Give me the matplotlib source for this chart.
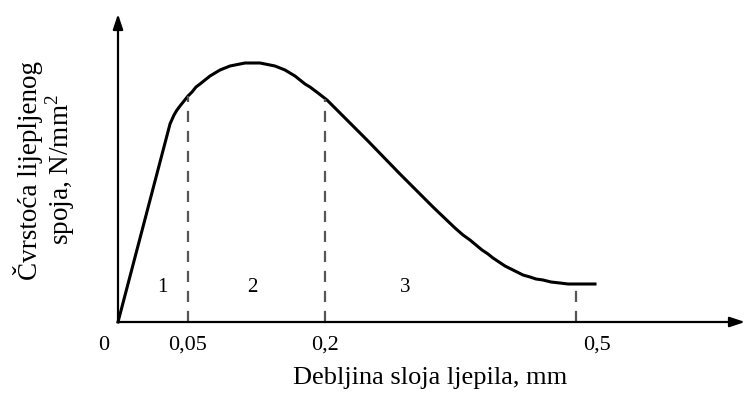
import matplotlib
matplotlib.use("Agg")
import matplotlib.pyplot as plt


# curve (arbitrary position units along the axis)
CURVE_X = [0, 52, 56, 59, 62, 66, 70, 74, 78, 82, 87, 92, 97, 102, 107, 112, 117, 122,
           127, 132, 137, 142, 147, 152, 157, 162, 167, 172, 177, 182, 187, 192, 200,
           209, 249, 282, 315, 337, 345, 352, 358, 364, 370, 375, 381, 387, 393, 399,
           405, 412, 418, 425, 433, 442, 450, 457, 467, 477]
CURVE_Y = [0, 198, 207, 212, 216, 221, 226, 230, 235, 238, 242, 246, 249, 252, 254, 256,
           257, 258, 259, 259, 259, 259, 258, 257, 256, 254, 252, 249, 246, 242, 238,
           235, 229, 222, 182, 148, 115, 94, 87, 82, 77, 72, 68, 64, 60, 56, 53, 50,
           47, 45, 43, 42, 40, 39, 38, 38, 38, 38]

# boundaries between zones, where the dashed lines drop to the axis
ZONE_X = [70, 207, 458]
ZONE_TOP = [226, 223, 38]
TICK_LABELS = ["0,05", "0,2", "0,5"]
TICK_LABEL_X = [70, 207, 479]

ZONE_NAMES = ["1", "2", "3"]
ZONE_NAME_X = [44, 134, 287]

X_LABEL = "Debljina sloja ljepila, mm"
Y_LABEL = "Čvrstoća lijepljenog\nspoja, N/mm$^2$"

FONT = ["Liberation Serif", "DejaVu Serif"]


def main() -> None:
    plt.rcParams["font.family"] = FONT
    plt.rcParams["mathtext.fontset"] = "custom"
    plt.rcParams["mathtext.rm"] = "Liberation Serif"

    fig = plt.figure(figsize=(7.45, 3.94), dpi=100)
    ax = fig.add_axes([0, 0, 1, 1])
    ax.set_xlim(-118, 627)
    ax.set_ylim(-72, 322)
    ax.axis("off")

    # axes with arrow heads
    arrow = dict(arrowstyle="-|>,head_length=0.9,head_width=0.3", color="black", lw=1.6,
                 shrinkA=0, shrinkB=0)
    ax.annotate("", xy=(627, 0), xytext=(0, 0), arrowprops=arrow)
    ax.annotate("", xy=(0, 308), xytext=(0, 0), arrowprops=arrow)

    ax.plot(CURVE_X, CURVE_Y, color="black", lw=2.2, solid_joinstyle="round")

    for x, top in zip(ZONE_X, ZONE_TOP):
        ax.plot([x, x], [0, top], color="#555555", lw=1.6, dashes=(5, 4))

    ax.text(-14, -23, "0", ha="center", va="center", fontsize=16)
    for x, label in zip(TICK_LABEL_X, TICK_LABELS):
        ax.text(x, -23, label, ha="center", va="center", fontsize=16)

    for x, name in zip(ZONE_NAME_X, ZONE_NAMES):
        ax.text(x, 34, name, ha="center", va="center", fontsize=15)

    ax.text(312, -56, X_LABEL, ha="center", va="center", fontsize=19)
    ax.text(-73, 152, Y_LABEL, ha="center", va="center", rotation=90, fontsize=19.5,
            linespacing=1.0)

    fig.savefig("out.png", dpi=100)


if __name__ == "__main__":
    main()
